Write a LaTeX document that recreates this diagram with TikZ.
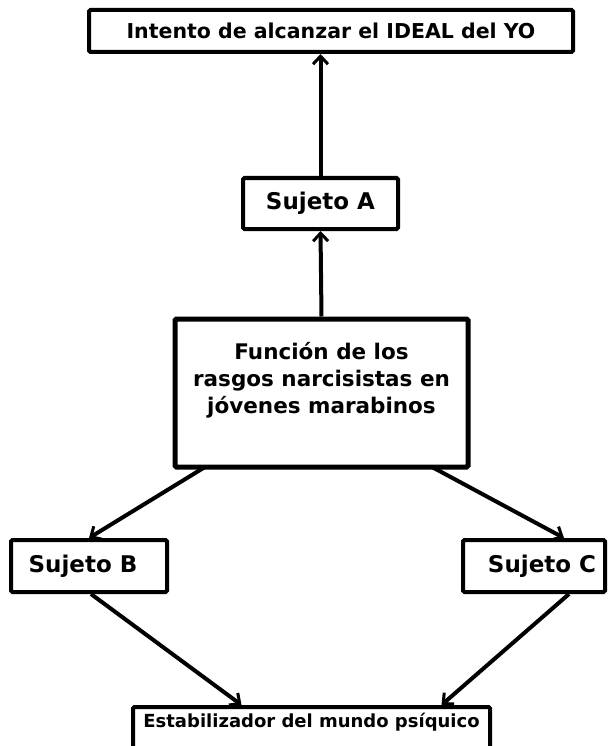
\documentclass[tikz,border=0pt]{standalone}
\usepackage{fontspec}
\setmainfont{DejaVu Sans}
\usetikzlibrary{arrows.meta}
\begin{document}
\begin{tikzpicture}[x=1pt,y=-1pt,
  box/.style={draw=black, line width=4pt, rounded corners=1.5pt, fill=white, inner sep=0pt, align=center, font=\bfseries},
  conn/.style={line width=4pt, -{Straight Barb[length=8pt,width=15pt,line width=3pt]}}]
\useasboundingbox[fill=white] (0,0) rectangle (608,746);
\node[box, minimum width=484pt, minimum height=42pt, font=\bfseries\fontsize{20.5}{24}\selectfont] (top) at (331,31) {Intento de alcanzar el IDEAL del YO};
\node[box, minimum width=155pt, minimum height=51pt, font=\bfseries\fontsize{23}{26}\selectfont] (sa) at (320.5,203.5) {Sujeto A};
\node[box, line width=5pt, minimum width=293pt, minimum height=148pt, font=\bfseries\fontsize{21.5}{27}\selectfont] (fn) at (321.5,393) {Función de los\\rasgos narcisistas en\\jóvenes marabinos\\[3pt]};
\node[box, minimum width=156pt, minimum height=52pt, font=\bfseries\fontsize{23}{26}\selectfont] (sb) at (89,566) {Sujeto B\hspace*{12pt}};
\node[box, minimum width=142pt, minimum height=52pt, font=\bfseries\fontsize{23}{26}\selectfont] (sc) at (534,566) {\hspace*{16pt}Sujeto C};
\node[box, anchor=north, minimum width=357pt, text height=14pt, text depth=30pt, inner ysep=6pt, font=\bfseries\fontsize{18}{21}\selectfont] (bot) at (311.5,705) {Estabilizador del mundo psíquico};
\coordinate (fnbl) at (205,467);
\coordinate (fnbr) at (432,467);
\draw[conn] (sa.north) -- (sa.north |- top.south);
\draw[conn] (fn.north) -- (sa.south);
\draw[conn] (fnbl) -- (sb.north);
\draw[conn] (fnbr) -- ([xshift=30pt]sc.north);
\draw[conn] ([xshift=2pt]sb.south) -- ([xshift=-70pt]bot.north);
\draw[conn] ([xshift=35pt]sc.south) -- ([xshift=130pt]bot.north);
\end{tikzpicture}
\end{document}
